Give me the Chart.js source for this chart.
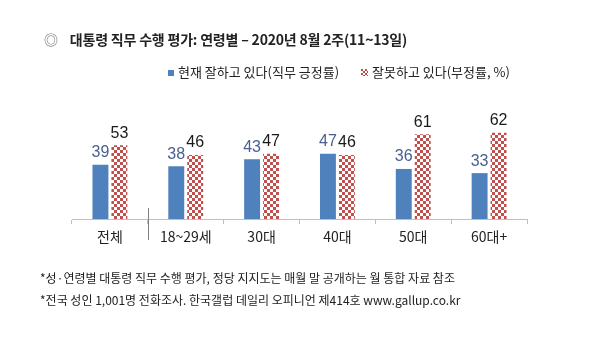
<!DOCTYPE html>
<html>
<head>
<meta charset="utf-8">
<script src="https://cdn.jsdelivr.net/npm/chart.js@4.4.1/dist/chart.umd.min.js"></script>
<style>
  body{margin:0;background:#fff;width:596px;height:364px;overflow:hidden;position:relative;font-family:"Noto Sans CJK KR","Noto Sans",sans-serif;color:#222}
  #wrap{position:absolute;left:0;top:0;width:596px;height:364px}
  .title{position:absolute;left:44px;top:29px;font-size:14px;font-weight:bold;white-space:nowrap;color:#222;letter-spacing:-0.2px}
  .title .mark{font-weight:normal;color:#666;margin-right:12px}
  .legend{position:absolute;top:62px;font-size:13px;white-space:nowrap;color:#222}
  .legend i{display:inline-block;width:6px;height:6px;margin-right:4px;vertical-align:1px}
  .note{position:absolute;left:40px;font-size:12px;white-space:nowrap;color:#222}
</style>
</head>
<body>
<div id="wrap"><canvas id="c" width="596" height="364"></canvas></div>
<div class="title"><span class="mark">◎</span>대통령 직무 수행 평가: 연령별 – 2020년 8월 2주(11~13일)</div>
<div class="legend" style="left:168px"><i style="background:#4F81BD"></i>현재 잘하고 있다(직무 긍정률)</div>
<div class="legend" style="left:361px"><i id="redKey" style="width:7px;height:7px"></i>잘못하고 있다(부정률, %)</div>
<div class="note" style="top:269px">*성·연령별 대통령 직무 수행 평가, 정당 지지도는 매월 말 공개하는 월 통합 자료 참조</div>
<div class="note" style="top:291px">*전국 성인 1,001명 전화조사. 한국갤럽 데일리 오피니언 제414호 www.gallup.co.kr</div>
<script>
const categories = ["전체", "18~29세", "30대", "40대", "50대", "60대+"];
const positive = [39, 38, 43, 47, 36, 33];
const negative = [53, 46, 47, 46, 61, 62];
const seriesNames = ["현재 잘하고 있다(직무 긍정률)", "잘못하고 있다(부정률, %)"];

function checker(c1, c2, s){
  const cv = document.createElement("canvas");
  cv.width = cv.height = s * 2;
  const x = cv.getContext("2d");
  x.fillStyle = c2; x.fillRect(0, 0, s * 2, s * 2);
  x.fillStyle = c1; x.fillRect(0, 0, s, s); x.fillRect(s, s, s, s);
  return { pat: x.createPattern(cv, "repeat"), url: cv.toDataURL() };
}
const red = checker("#C0504D", "#ffffff", 3);
document.getElementById("redKey").style.background = "url(" + red.url + ")";
document.getElementById("redKey").style.backgroundSize = "4px 4px";

// value labels above bars
const valueLabels = {
  id: "valueLabels",
  afterDatasetsDraw(chart){
    const ctx = chart.ctx;
    ctx.save();
    ctx.font = "16px 'Liberation Sans'";
    ctx.textAlign = "center";
    ctx.textBaseline = "bottom";
    chart.data.datasets.forEach((ds, i) => {
      ctx.fillStyle = i === 0 ? "#4A6090" : "#1a1a1a";
      chart.getDatasetMeta(i).data.forEach((bar, j) => {
        ctx.fillText(ds.data[j], bar.x, bar.y - 4);
      });
    });
    ctx.restore();
  }
};

// long separator after the first category
const separator = {
  id: "separator",
  afterDraw(chart){
    const xs = chart.scales.x;
    const x = Math.round((xs.getPixelForValue(0) + xs.getPixelForValue(1)) / 2) + 0.5;
    const y = chart.chartArea.bottom;
    const ctx = chart.ctx;
    ctx.save();
    ctx.strokeStyle = "#7f7f7f";
    ctx.lineWidth = 1;
    ctx.beginPath();
    ctx.moveTo(x, y - 11);
    ctx.lineTo(x, y + 21);
    ctx.stroke();
    ctx.restore();
  }
};

new Chart(document.getElementById("c"), {
  type: "bar",
  data: {
    labels: categories,
    datasets: [
      { label: seriesNames[0], data: positive, backgroundColor: "#4F81BD" },
      { label: seriesNames[1], data: negative, backgroundColor: red.pat }
    ]
  },
  options: {
    responsive: false,
    animation: false,
    datasets: { bar: { categoryPercentage: 0.5, barPercentage: 0.84 } },
    layout: { padding: { left: 72, right: 69, top: 80, bottom: 105 } },
    plugins: { legend: { display: false }, tooltip: { enabled: false } },
    scales: {
      y: { display: false, min: 0, max: 100 },
      x: {
        afterFit(s){ s.height = 40; },
        grid: { drawOnChartArea: false, drawTicks: true, tickLength: 5, color: "#BFBFBF" },
        border: { display: true, color: "#BFBFBF" },
        ticks: { color: "#222", font: { size: 14, family: "'Noto Sans CJK KR'" }, padding: 4 }
      }
    }
  },
  plugins: [valueLabels, separator]
});
</script>
</body>
</html>
